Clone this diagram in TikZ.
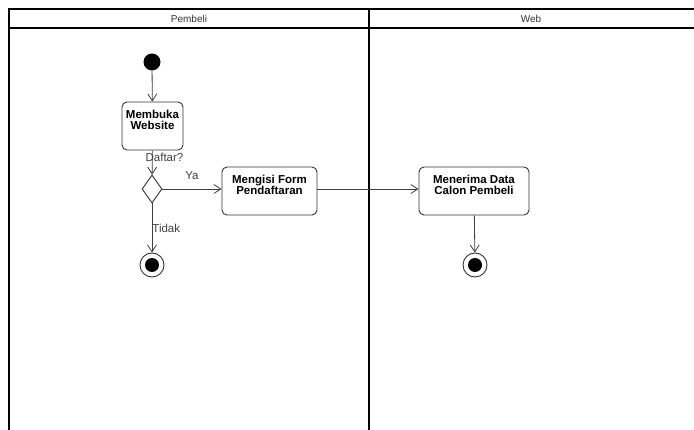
\documentclass[tikz,border=0pt]{standalone}
\usepackage{fontspec}
\setmainfont{Liberation Sans}
\usepackage{tikz}
\usetikzlibrary{shapes.geometric,arrows.meta}

\begin{document}
\begin{tikzpicture}[
x=1pt,y=-1pt,
lane/.style={
  draw=black,
  line width=1.3pt
  },
aksi/.style={
  draw=black!80,
  line width=0.9pt,
  rounded corners=5pt,
  fill=white,
  inner sep=0pt,
  font=\fontsize{11.5}{11.5}\selectfont\bfseries
  },
awal/.style={
  circle,
  fill=black,
  inner sep=0pt,
  minimum size=17pt
  },
akhir/.style={
  circle,
  draw=black!80,
  line width=0.9pt,
  fill=white,
  inner sep=0pt,
  minimum size=24pt,
  path picture={\fill[black] (path picture bounding box.center) circle (7pt);}
  },
pilih/.style={
  diamond,
  draw=black!80,
  line width=0.9pt,
  fill=white,
  inner sep=0pt,
  minimum width=20pt,
  minimum height=28pt
  },
ket/.style={
  font=\fontsize{11.5}{12}\selectfont,
  text=black!75,
  inner sep=1pt
  },
alur/.style={
  ->,
  draw=black!75,
  line width=0.8pt
  },
>={Straight Barb[length=7pt,width=9pt]}
]
\useasboundingbox (0,0) rectangle (694,430);
\clip (0,0) rectangle (694,430);
\fill[white] (0,0) rectangle (694,430);

% swimlanes
\draw[lane] (9,440) -- (9,9) -- (700,9);
\draw[lane] (9,28) -- (700,28);
\draw[lane] (369,9) -- (369,440);
\node[font=\fontsize{10}{10}\selectfont, text=black!80] (pembeli) at (189,18.5) {Pembeli};
\node[font=\fontsize{10}{10}\selectfont, text=black!80] (web) at (531,18.5) {Web};

% nodes
\node[awal] (mulai) at (152,62) {};
\node[aksi, minimum width=61pt, minimum height=48pt] (membuka) at (152.5,126)
  {\parbox[c][32pt][t]{60pt}{\centering Membuka\\Website}};
\node[pilih] (daftar) at (152,189) {};
\node[aksi, minimum width=95pt, minimum height=48pt] (mengisi) at (269.5,191)
  {\parbox[c][32pt][t]{94pt}{\centering Mengisi Form\\Pendaftaran}};
\node[aksi, minimum width=110pt, minimum height=48pt] (menerima) at (474,191)
  {\parbox[c][32pt][t]{108pt}{\centering Menerima Data\\Calon Pembeli}};
\node[akhir] (selesai1) at (152,265) {};
\node[akhir] (selesai2) at (475,265) {};

% edges
\draw[alur] (mulai) -- (membuka);
\draw[alur] (membuka) -- node[ket, right, pos=0.3, xshift=-8pt] {Daftar?} (daftar);
\draw[alur] (daftar.east) -- node[ket, above, pos=0.5, yshift=8pt] {Ya} (mengisi.west |- daftar.east);
\draw[alur] (daftar) -- node[ket, right, pos=0.5, xshift=-1pt] {Tidak} (selesai1);
\draw[alur] (mengisi.east |- daftar.east) -- (menerima.west |- daftar.east);
\draw[alur] (menerima) -- (selesai2);
\end{tikzpicture}
\end{document}
